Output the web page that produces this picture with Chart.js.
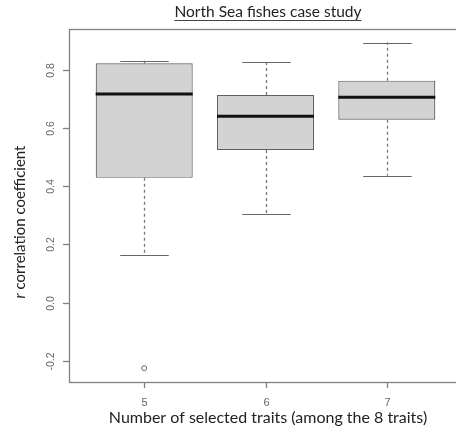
<!DOCTYPE html>
<html>
<head>
<meta charset="utf-8">
<script src="https://cdn.jsdelivr.net/npm/chart.js@4"></script>
<style>
  html, body { margin: 0; padding: 0; background: #fff; overflow: hidden; }
  canvas { display: block; }
</style>
</head>
<body>
<canvas id="myChart" width="470" height="438"></canvas>
<script>
// number of selected traits (groups)
const categories = [5, 6, 7];
// box plot statistics per group
const whiskerLow = [0.164, 0.306, 0.436];
const q1 = [0.429, 0.525, 0.629];
const medians = [0.717, 0.641, 0.706];
const q3 = [0.823, 0.714, 0.763];
const whiskerHigh = [0.831, 0.827, 0.894];
// outliers
const outlierX = [5];
const outlierY = [-0.225];
// tick labels
const xTicks = [5, 6, 7];
const yTicks = [-0.2, 0, 0.2, 0.4, 0.6, 0.8];
const yTickLabels = ["-0.2", "0.0", "0.2", "0.4", "0.6", "0.8"];

const title = "North Sea fishes case study";
const xTitle = "Number of selected traits (among the 8 traits)";
const yTitleItalic = "r";
const yTitle = " correlation coefficient";

const FONT = "Lato, 'Open Sans', sans-serif";
const AXIS_COLOR = "#808080";

// whiskers, caps and medians, placed with the chart scales
const boxExtras = {
  id: "boxExtras",
  afterDatasetsDraw(chart) {
    const { ctx, scales: { x, y } } = chart;
    const boxW = x.getPixelForValue(1.4) - x.getPixelForValue(1);
    ctx.save();
    categories.forEach((c, i) => {
      const cx = Math.round(x.getPixelForValue(c)) + 0.5;
      // dashed whiskers
      ctx.strokeStyle = "#777";
      ctx.lineWidth = 1.3;
      ctx.setLineDash([3, 3]);
      ctx.beginPath();
      ctx.moveTo(cx, y.getPixelForValue(q3[i]));
      ctx.lineTo(cx, y.getPixelForValue(whiskerHigh[i]));
      ctx.moveTo(cx, y.getPixelForValue(q1[i]));
      ctx.lineTo(cx, y.getPixelForValue(whiskerLow[i]));
      ctx.stroke();
      // caps
      ctx.setLineDash([]);
      ctx.strokeStyle = "#666";
      ctx.lineWidth = 1.2;
      ctx.beginPath();
      [whiskerHigh[i], whiskerLow[i]].forEach(v => {
        const py = Math.round(y.getPixelForValue(v)) + 0.5;
        ctx.moveTo(cx - boxW / 2, py);
        ctx.lineTo(cx + boxW / 2, py);
      });
      ctx.stroke();
      // median
      ctx.strokeStyle = "#111";
      ctx.lineWidth = 3;
      ctx.beginPath();
      const my = y.getPixelForValue(medians[i]);
      ctx.moveTo(x.getPixelForValue(c - 0.4), my);
      ctx.lineTo(x.getPixelForValue(c + 0.4), my);
      ctx.stroke();
    });
    ctx.restore();
  },
  afterDraw(chart) {
    const { ctx, chartArea: a, scales: { x, y } } = chart;
    ctx.save();
    // plot frame
    ctx.strokeStyle = AXIS_COLOR;
    ctx.lineWidth = 1.3;
    ctx.strokeRect(Math.round(a.left) + 0.5, Math.round(a.top) + 0.5,
      Math.round(a.right - a.left), Math.round(a.bottom - a.top));
    // y ticks
    ctx.fillStyle = "#666";
    ctx.font = "10.5px 'Liberation Sans', Arial, sans-serif";
    ctx.textAlign = "center";
    ctx.textBaseline = "middle";
    yTicks.forEach((v, i) => {
      const py = Math.round(y.getPixelForValue(v)) + 0.5;
      ctx.beginPath();
      ctx.moveTo(a.left - 6, py);
      ctx.lineTo(a.left, py);
      ctx.stroke();
      ctx.save();
      ctx.translate(a.left - 18, py);
      ctx.rotate(-Math.PI / 2);
      ctx.fillText(yTickLabels[i], 0, 0);
      ctx.restore();
    });
    // x ticks
    ctx.font = "11px 'Liberation Sans', Arial, sans-serif";
    xTicks.forEach(v => {
      const px = Math.round(x.getPixelForValue(v)) + 0.5;
      ctx.beginPath();
      ctx.moveTo(px, a.bottom);
      ctx.lineTo(px, a.bottom + 6);
      ctx.stroke();
      ctx.fillText(String(v), px, a.bottom + 21);
    });
    // title, underlined
    const cxText = 268;
    ctx.fillStyle = "#222";
    ctx.font = "15.5px " + FONT;
    ctx.textBaseline = "alphabetic";
    ctx.fillText(title, cxText, 17);
    const tw = ctx.measureText(title).width;
    ctx.strokeStyle = "#444";
    ctx.lineWidth = 1;
    ctx.beginPath();
    ctx.moveTo(cxText - tw / 2, 20.5);
    ctx.lineTo(cxText + tw / 2, 20.5);
    ctx.stroke();
    // x title
    ctx.font = "16px " + FONT;
    ctx.fillText(xTitle, cxText, 423);
    // y title, rotated, with italic r
    ctx.save();
    ctx.translate(25, 222);
    ctx.rotate(-Math.PI / 2);
    ctx.font = "15px " + FONT;
    const w2 = ctx.measureText(yTitle).width;
    ctx.font = "italic 15px " + FONT;
    const w1 = ctx.measureText(yTitleItalic).width;
    const start = -(w1 + w2) / 2;
    ctx.textAlign = "left";
    ctx.fillText(yTitleItalic, start, 0);
    ctx.font = "15px " + FONT;
    ctx.fillText(yTitle, start + w1, 0);
    ctx.restore();
    ctx.restore();
  }
};

const ctx = document.getElementById("myChart").getContext("2d");
new Chart(ctx, {
  data: {
    datasets: [
      {
        type: "bar",
        data: categories.map((c, i) => ({ x: c, y: [q1[i], q3[i]] })),
        backgroundColor: "#d3d3d3",
        borderColor: "#606060",
        borderWidth: 1.2,
        borderSkipped: false,
        barPercentage: 0.8,
        categoryPercentage: 1
      },
      {
        type: "scatter",
        data: outlierX.map((v, i) => ({ x: v, y: outlierY[i] })),
        pointRadius: 2.5,
        pointBackgroundColor: "transparent",
        pointBorderColor: "#666",
        pointBorderWidth: 1
      }
    ]
  },
  options: {
    responsive: false,
    animation: false,
    layout: { padding: { left: 69, top: 29, right: 8, bottom: 56 } },
    plugins: { legend: { display: false }, tooltip: { enabled: false } },
    scales: {
      x: {
        type: "linear", min: 4.38, max: 7.62, offset: false, display: false,
        afterBuildTicks: axis => { axis.ticks = xTicks.map(v => ({ value: v })); }
      },
      y: {
        type: "linear", min: -0.2725, max: 0.9405, display: false,
        afterBuildTicks: axis => { axis.ticks = yTicks.map(v => ({ value: v })); }
      }
    }
  },
  plugins: [boxExtras]
});
</script>
</body>
</html>
